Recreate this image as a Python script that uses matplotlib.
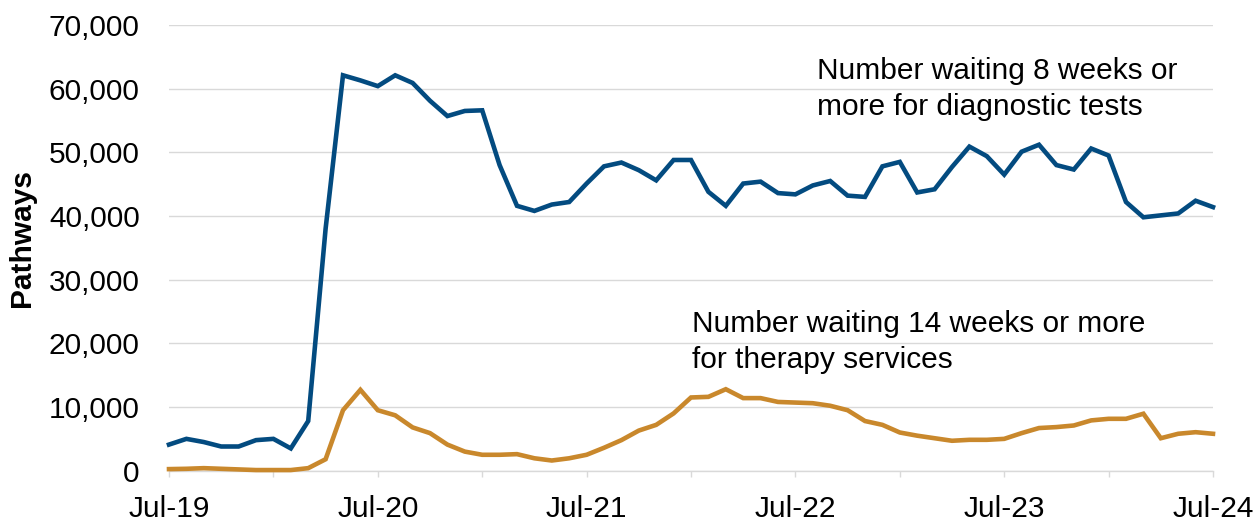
"""Waiting list pathways: diagnostics (8+ weeks) and therapy services (14+ weeks)."""

import matplotlib

matplotlib.use("Agg")
import matplotlib.pyplot as plt  # noqa: E402
from matplotlib.ticker import FuncFormatter, MultipleLocator  # noqa: E402

# Monthly values, Jul-19 .. Jul-24 (61 months)
diagnostic_8wk = [
    4100, 5000, 4500, 3800, 3800, 4800, 5000, 3500, 7800, 38000,
    62100, 61300, 60400, 62100, 60900, 58100, 55700, 56500, 56600, 48000,
    41600, 40800, 41800, 42200, 45100, 47800, 48400, 47200, 45600, 48800,
    48800, 43800, 41600, 45100, 45400, 43600, 43400, 44800, 45500, 43200,
    43000, 47800, 48500, 43700, 44200, 47700, 50900, 49400, 46500, 50100,
    51200, 48000, 47300, 50600, 49500, 42200, 39800, 40100, 40400, 42400,
    41400,
]
therapy_14wk = [
    250, 300, 400, 300, 200, 100, 100, 100, 400, 1800,
    9500, 12700, 9500, 8700, 6800, 5900, 4100, 3000, 2500, 2500,
    2600, 1950, 1600, 1950, 2500, 3600, 4800, 6300, 7200, 9000,
    11500, 11600, 12800, 11400, 11400, 10800, 10700, 10600, 10200, 9500,
    7800, 7200, 6000, 5500, 5100, 4700, 4850, 4850, 5000, 5900,
    6700, 6850, 7100, 7900, 8150, 8150, 8950, 5100, 5800, 6050,
    5800,
]
month_index = list(range(len(diagnostic_8wk)))
year_labels = ["Jul-19", "Jul-20", "Jul-21", "Jul-22", "Jul-23", "Jul-24"]

BLUE = "#034b80"
ORANGE = "#c9882c"
GRID = "#d9d9d9"
FONT = "Liberation Sans"
SIZE = 21.5

plt.rcParams["font.family"] = [FONT, "DejaVu Sans"]

fig = plt.figure(figsize=(12.56, 5.22), dpi=100)
ax = fig.add_axes([169 / 1256, 51.3 / 522, 1044 / 1256, 445.7 / 522])

ax.plot(month_index, diagnostic_8wk, color=BLUE, linewidth=3.3,
        solid_joinstyle="miter", clip_on=False, zorder=3)
ax.plot(month_index, therapy_14wk, color=ORANGE, linewidth=3.3,
        solid_joinstyle="miter", clip_on=False, zorder=3)

ax.set_xlim(0, len(month_index) - 1)
ax.set_ylim(0, 70000)

ax.yaxis.set_major_locator(MultipleLocator(10000))
ax.yaxis.set_major_formatter(FuncFormatter(lambda v, _: f"{int(v):,}"))
ax.grid(axis="y", color=GRID, linewidth=1.0, zorder=0)
ax.set_axisbelow(True)

ax.set_xticks(range(0, len(month_index), 12))
ax.set_xticklabels(year_labels)
ax.set_xticks(range(6, len(month_index), 12), minor=True)

for side in ("top", "right", "left"):
    ax.spines[side].set_visible(False)
ax.spines["bottom"].set_color(GRID)
ax.spines["bottom"].set_linewidth(1.0)

ax.tick_params(axis="y", length=0, pad=21, labelsize=SIZE)
ax.tick_params(axis="x", which="both", length=4.5, width=1.0, color=GRID,
               direction="out", pad=13, labelsize=SIZE)

ax.set_ylabel("Pathways", fontsize=SIZE, fontweight="bold", va="center")
ax.yaxis.set_label_coords(-0.1408, 0.522)

# va="baseline" on multi-line text anchors the last line's baseline
fig.text(817 / 1256, 1 - 115 / 522,
         "Number waiting 8 weeks or\nmore for diagnostic tests",
         fontsize=SIZE, va="baseline", ha="left", linespacing=1.36)
fig.text(692 / 1256, 1 - 368 / 522,
         "Number waiting 14 weeks or more\nfor therapy services",
         fontsize=SIZE, va="baseline", ha="left", linespacing=1.36)

fig.savefig("out.png", dpi=100)
plt.close(fig)
